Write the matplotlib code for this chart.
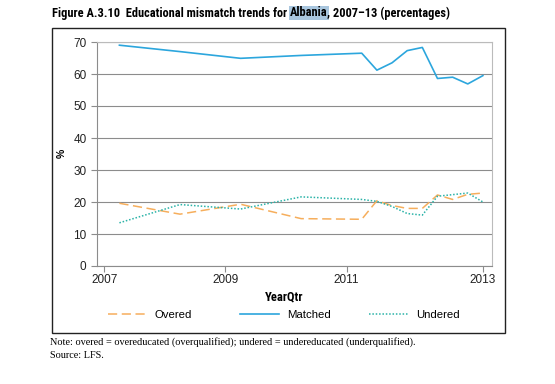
import matplotlib
matplotlib.use("Agg")
import matplotlib.pyplot as plt
from matplotlib import font_manager
from matplotlib.patches import Rectangle
from matplotlib.lines import Line2D

# quarters as fractional years (2007q2 ... 2013q2)
years = [2007.25, 2008.25, 2009.25, 2010.25, 2011.25, 2011.5, 2011.75, 2012.0,
         2012.25, 2012.5, 2012.75, 2013.0, 2013.25]
overed = [19.6, 16.2, 19.3, 14.8, 14.6, 20.4, 18.9, 18.0, 18.0, 22.2, 20.8, 22.4, 22.8]
matched = [69.0, 67.0, 64.9, 65.8, 66.5, 61.2, 63.5, 67.3, 68.3, 58.6, 59.0, 56.9, 59.5]
undered = [13.5, 19.2, 17.8, 21.6, 20.8, 20.2, 18.6, 16.4, 15.9, 21.8, 22.3, 22.8, 20.0]

xtick_pos = [2007, 2009, 2011, 2013.25]
xtick_labels = ["2007", "2009", "2011", "2013"]
yticks = [0, 10, 20, 30, 40, 50, 60, 70]

c_over = "#F6AE5C"
c_match = "#2CA6DD"
c_under = "#2BB3A8"

# look for a condensed face, otherwise use Liberation Sans
names = {f.name for f in font_manager.fontManager.ttflist}
cond_name = None
for n in ["Liberation Sans Narrow", "Roboto Condensed", "Open Sans Condensed", "DejaVu Sans Condensed"]:
    if n in names:
        cond_name = n
        break
if cond_name:
    cond = [cond_name, "DejaVu Sans"]
    title_size = 8.9
else:
    cond = ["Liberation Sans", "DejaVu Sans"]
    title_size = 8.3
sans = ["Liberation Sans", "DejaVu Sans"]
serif = ["Liberation Serif", "DejaVu Serif"]

fig = plt.figure(figsize=(5.55, 3.84), dpi=100)
W, H = 555, 384

def fx(px):
    return px / W

def fy(py):
    return 1 - py / H

# outer frame
fig.patches.append(Rectangle((fx(52), fy(333)), fx(505) - fx(52), fy(28) - fy(333),
                             transform=fig.transFigure, fill=False, lw=1.0, ec="#222222"))

ax = fig.add_axes([fx(97), fy(266), fx(492) - fx(97), fy(42) - fy(266)])
ax.plot(years, overed, color=c_over, lw=1.1, dashes=(6, 3))
ax.plot(years, matched, color=c_match, lw=1.2)
ax.plot(years, undered, color=c_under, lw=1.1, dashes=(1, 1.2))

ax.set_xlim(2006.88, 2013.4)
ax.set_ylim(0, 70)
ax.set_yticks(yticks)
ax.set_xticks(xtick_pos)
ax.set_xticklabels(xtick_labels, family=sans, fontsize=8.5)
ax.set_yticklabels([str(v) for v in yticks], family=sans, fontsize=8.5)
ax.grid(axis="y", color="#8c8c8c", lw=0.8)
ax.set_axisbelow(True)
for s in ["top", "right"]:
    ax.spines[s].set_color("#bbbbbb")
for s in ["left", "bottom"]:
    ax.spines[s].set_color("#8c8c8c")
ax.tick_params(axis="both", colors="#8c8c8c", labelcolor="#222222", length=4, width=0.8)
ax.tick_params(axis="x", pad=2)

fig.text(fx(62), fy(153), "%", rotation=90, ha="center", va="center",
         fontsize=7.5, family=sans, fontweight="bold")
fig.text(fx(284), fy(297), "YearQtr", ha="center", va="center",
         fontsize=8.6 if not cond_name else 9, family=cond, fontweight="bold")

# legend: one entry per box so the spacing follows the reference
handles = [Line2D([], [], color=c_over, lw=1.1, dashes=(6, 3)),
           Line2D([], [], color=c_match, lw=1.2),
           Line2D([], [], color=c_under, lw=1.1, dashes=(1, 1.2))]
labels = ["Overed", "Matched", "Undered"]
starts = [108, 240, 369]
for h, lab, x0 in zip(handles, labels, starts):
    fig.legend([h], [lab], frameon=False, loc="center left",
               bbox_to_anchor=(fx(x0), fy(315)), borderpad=0, borderaxespad=0,
               prop={"family": sans, "size": 8.2}, handlelength=3.4,
               handletextpad=0.7)

# title in three pieces, "Albania" carries the highlight seen in the source
title_parts = ["Figure A.3.10  Educational mismatch trends for ", "Albania",
               ", 2007\u201313 (percentages)"]
renderer = fig.canvas.get_renderer()
x = fx(52)
for i, part in enumerate(title_parts):
    kw = dict(ha="left", va="center", fontsize=title_size, family=cond, fontweight="bold")
    if i == 1:
        kw["bbox"] = dict(boxstyle="square,pad=0.08", fc="#A9C6DE", ec="none")
    t = fig.text(x, fy(13), part, **kw)
    bb = t.get_window_extent(renderer)
    x = bb.x1 / W if i != 1 else (bb.x1 - 0.08 * title_size * 100 / 72) / W

fig.text(fx(50), fy(342), "Note: overed = overeducated (overqualified); undered = undereducated (underqualified).",
         ha="left", va="center", fontsize=7.4, family=serif)
fig.text(fx(50), fy(355), "Source: LFS.",
         ha="left", va="center", fontsize=7.4, family=serif)

fig.savefig("out.png", dpi=100)
